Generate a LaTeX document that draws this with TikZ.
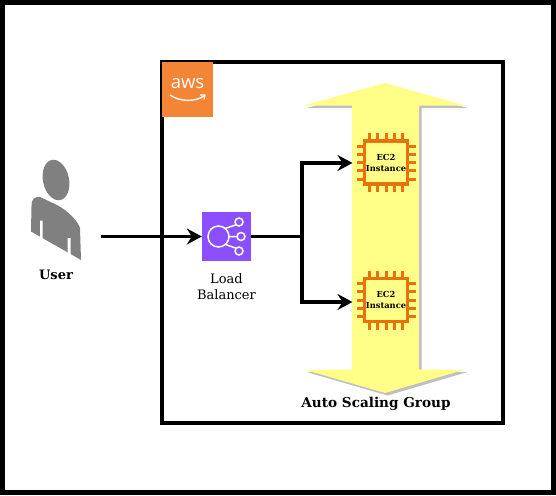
\documentclass[tikz,border=0pt]{standalone}
\usepackage{fontspec}
\setmainfont{DejaVu Serif}
\newfontfamily\awsfont{Open Sans}
\usetikzlibrary{arrows.meta,calc}
\definecolor{awsorange}{HTML}{F58536}
\definecolor{lbpurple}{HTML}{8C4FFF}
\definecolor{chiporange}{HTML}{E8720C}
\definecolor{arrowyellow}{HTML}{FFFF88}
\definecolor{usergray}{HTML}{808080}
\tikzset{
  conn/.style={line width=3.4pt,-{Stealth[length=15pt,width=16pt,inset=5pt]}},
  plainconn/.style={line width=3.4pt},
  chipbox/.style={draw=chiporange,line width=3.2pt,minimum size=43pt,inner sep=0pt,align=center,
    font=\fontsize{8.3}{11}\selectfont\bfseries},
  pin/.style={draw=chiporange,line width=3pt},
  lblstyle/.style={font=\fontsize{13}{16}\selectfont,align=center,inner sep=0pt},
  lbline/.style={draw=white,line width=1.5pt},
}
\begin{document}
\begin{tikzpicture}[x=1pt,y=-1pt]
\useasboundingbox (0,0) rectangle (556,495);
\fill[white] (0,0) rectangle (556,495);
\draw[black,line width=5pt] (2.5,2.5) rectangle (553.5,492.5);
% container
\draw[black,line width=3.5pt] (162,62) rectangle (503,423);
% scaling arrow
\def\arrowpath{(385,83) -- (465,105.5) -- (419,105.5) -- (419,369.5) -- (465,369.5) -- (385,393) -- (304,369.5) -- (352,369.5) -- (352,105.5) -- (304,105.5) -- cycle}
\fill[black!25,shift={(2.5,2.5)}] \arrowpath;
\fill[arrowyellow] \arrowpath;
% aws
\fill[awsorange] (162,62) rectangle (213,117);
\node[text=white,inner sep=0pt,font=\awsfont\fontsize{18.5}{18.5}\selectfont] (awslogo) at (187.5,84) {aws};
\draw[white,line width=1.4pt] (170,95) .. controls (180,102) and (195,102) .. (204,96);
\draw[white,line width=1.2pt] (200,95) -- (205,95) -- (204,99.5);
% user
\node[inner sep=0pt,minimum size=1pt] (user) at (56,222) {};
\fill[usergray,rotate around={12:(56,180)}] (56,180) ellipse [x radius=13,y radius=20.5];
\fill[usergray] (31.5,206) .. controls (31.5,198) and (35,197) .. (40,197)
  -- (57,205) .. controls (70,212) and (78,222) .. (80,228)
  -- (81,260) -- (31,231.5) -- cycle;
\fill[white] (40,220.5) -- (42.7,220.5) -- (42.7,240) -- (40,239) -- cycle;
\fill[white] (67.7,238) -- (70.7,238) -- (70.7,257) -- (67.7,255.5) -- cycle;
\node[lblstyle,font=\fontsize{13}{16}\selectfont\bfseries] (userlbl) at (56,275) {User};
\coordinate (userout) at (101,236.5);
% load balancer
\node[fill=lbpurple,minimum size=49pt,inner sep=0pt] (lb) at (226.5,236.5) {};
\draw[lbline] (218.5,236.5) circle (10.5);
\draw[lbline] (239,222) circle (4) (241,236.5) circle (4) (239,251) circle (4);
\draw[lbline] (225,228.5) -- (236,224.8) (229,236.5) -- (237,236.5) (225.5,244.5) -- (236,248.2);
\node[lblstyle] (lblbl) at (226.5,287) {Load\\Balancer};
% chips
\node[chipbox] (chipa) at (386,162.5) {EC2\\Instance};
\node[chipbox] (chipb) at (386,300) {EC2\\Instance};
\foreach \c in {chipa,chipb}{
  \foreach \o in {-16.5,-8.25,0,8.25,16.5}{
    \draw[pin] ($(\c.center)+(\o,-21.5)$) -- ++(0,-8);
    \draw[pin] ($(\c.center)+(\o,21.5)$) -- ++(0,8);
    \draw[pin] ($(\c.center)+(-21.5,\o)$) -- ++(-8,0);
    \draw[pin] ($(\c.center)+(21.5,\o)$) -- ++(8,0);
  }
}
\node[lblstyle,font=\fontsize{13.6}{16}\selectfont\bfseries] (asg) at (376,404) {Auto Scaling Group};
% connectors
\coordinate (junction) at (302,236.5);
\coordinate (chipain) at (352.5,163);
\coordinate (chipbin) at (352.5,302);
\draw[conn] (userout) -- (lb.west);
\draw[plainconn] (lb.east) -- (junction);
\draw[conn] (junction) |- (chipain);
\draw[conn] (junction) |- (chipbin);
\end{tikzpicture}
\end{document}
